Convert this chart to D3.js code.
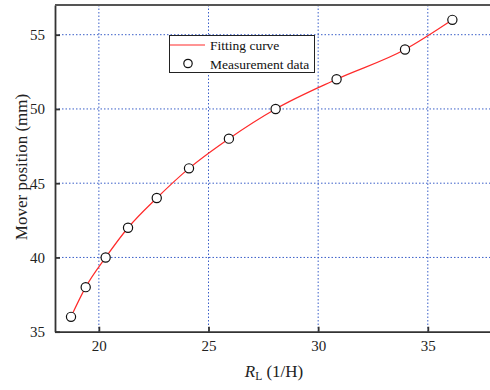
<!DOCTYPE html>
<html><head><meta charset="utf-8">
<script src="https://cdn.jsdelivr.net/npm/d3@7"></script>
<style>body{margin:0;background:#fff}svg{display:block}</style>
</head><body>
<script>
const xValues = [18.73, 19.40, 20.31, 21.33, 22.64, 24.11, 25.93, 28.06, 30.84, 33.96, 36.12];
const yValues = [36, 38, 40, 42, 44, 46, 48, 50, 52, 54, 56];
const xTicks = [20, 25, 30, 35];
const yTicks = [35, 40, 45, 50, 55];
const legendLabels = ["Fitting curve", "Measurement data"];

const W = 490, H = 390;
const svg = d3.select("body").append("svg").attr("width", W).attr("height", H);
const font = "'Liberation Serif','Times New Roman',serif";
const x = d3.scaleLinear().domain([18, 38]).range([55, 493.6]);
const y = d3.scaleLinear().domain([35, 57]).range([331.7, 5]);
const data = xValues.map((v, i) => ({x: v, y: yValues[i]}));

// grid
svg.append("g").selectAll("line").data(xTicks).join("line")
  .attr("x1", d => x(d)).attr("x2", d => x(d)).attr("y1", y(57)).attr("y2", y(35))
  .attr("stroke", "#3a5fc8").attr("stroke-width", 1).attr("stroke-dasharray", "1.5,2");
svg.append("g").selectAll("line").data(yTicks.filter(d => d > 35)).join("line")
  .attr("x1", x(18)).attr("x2", x(38)).attr("y1", d => y(d)).attr("y2", d => y(d))
  .attr("stroke", "#3a5fc8").attr("stroke-width", 1).attr("stroke-dasharray", "1.5,2");

// axes
const xAxis = svg.append("g").attr("transform", `translate(0,${y(35)})`)
  .call(d3.axisBottom(x).tickValues(xTicks).tickSizeInner(-5).tickSizeOuter(0).tickPadding(9));
const yAxis = svg.append("g").attr("transform", `translate(${x(18)},0)`)
  .call(d3.axisLeft(y).tickValues(yTicks).tickSizeInner(-5).tickSizeOuter(0).tickPadding(10));
[xAxis, yAxis].forEach(g => {
  g.select(".domain").attr("stroke", "#333").attr("stroke-width", 1.8);
  g.selectAll(".tick line").attr("stroke", "#333").attr("stroke-width", 1.8);
  g.selectAll(".tick text").attr("font-family", font).attr("font-size", 15).attr("fill", "#222");
});
// top border
svg.append("line").attr("x1", x(18)).attr("x2", x(38)).attr("y1", y(57)).attr("y2", y(57))
  .attr("stroke", "#555").attr("stroke-width", 1.8);

// curve
svg.append("path").datum(data)
  .attr("d", d3.line().x(d => x(d.x)).y(d => y(d.y)).curve(d3.curveMonotoneX))
  .attr("fill", "none").attr("stroke", "#ff2a2a").attr("stroke-width", 1.2);
svg.append("g").selectAll("circle").data(data).join("circle")
  .attr("cx", d => x(d.x)).attr("cy", d => y(d.y)).attr("r", 4.6)
  .attr("fill", "#fff").attr("stroke", "#111").attr("stroke-width", 1.2);

// axis titles
const xt = svg.append("text").attr("x", 274).attr("y", 377).attr("text-anchor", "middle")
  .attr("font-family", font).attr("font-size", 17).attr("fill", "#222");
xt.append("tspan").attr("font-style", "italic").text("R");
xt.append("tspan").attr("font-size", 11.5).attr("dy", 3).text("L");
xt.append("tspan").attr("dy", -3).text(" (1/H)");
svg.append("text").attr("transform", "translate(27,167) rotate(-90)").attr("text-anchor", "middle")
  .attr("font-family", font).attr("font-size", 17).attr("fill", "#222").text("Mover position (mm)");

// legend
const lg = svg.append("g");
lg.append("rect").attr("x", 169.5).attr("y", 35.5).attr("width", 145).attr("height", 37)
  .attr("fill", "#fff").attr("stroke", "#222").attr("stroke-width", 1);
lg.append("line").attr("x1", 170).attr("x2", 205).attr("y1", 45).attr("y2", 45)
  .attr("stroke", "#ff2a2a").attr("stroke-width", 1.2);
lg.append("circle").attr("cx", 188).attr("cy", 63.5).attr("r", 4.2)
  .attr("fill", "#fff").attr("stroke", "#111").attr("stroke-width", 1.2);
lg.selectAll("text").data(legendLabels).join("text")
  .attr("x", 210).attr("y", (d, i) => 50 + i * 18.5)
  .attr("font-family", font).attr("font-size", 13.5).attr("fill", "#111").text(d => d);
</script>
</body></html>
